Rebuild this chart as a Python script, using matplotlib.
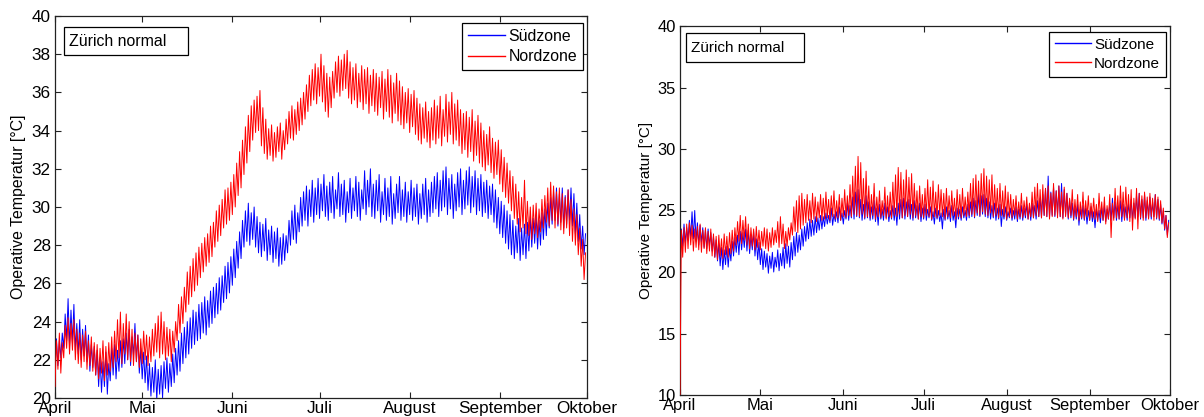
import matplotlib
matplotlib.use('Agg')
import matplotlib.pyplot as plt
import numpy as np
from matplotlib.patches import Rectangle

plt.rcParams['font.family'] = ['Liberation Sans', 'DejaVu Sans']

# ---------------- data ----------------
months = ['April', 'Mai', 'Juni', 'Juli', 'August', 'September', 'Oktober']
month_days = [0, 30, 61, 91, 122, 153, 183]
series_names = ['Südzone', 'Nordzone']
box_label = 'Zürich normal'
ylabel = 'Operative Temperatur [°C]'

# daily (min, max) pairs, April 1 .. September 30
sud_links = [
    22.0, 23.1, 21.7, 23.0, 22.1, 23.4, 22.6, 24.4, 23.0, 25.2, 22.7, 24.6, 22.9, 24.9, 22.5, 23.9, 22.3, 24.1, 22.0, 23.6,
    22.2, 23.8, 21.9, 23.3, 21.4, 22.8, 21.6, 22.7, 21.2, 22.5, 20.6, 22.1, 20.3, 21.9, 20.6, 22.4, 20.2, 21.8, 20.9, 22.6,
    21.2, 22.8, 21.0, 22.5, 21.4, 23.0, 21.6, 23.1, 21.8, 23.4, 22.0, 23.6, 21.7, 23.2, 22.2, 23.9, 21.9, 23.3, 21.3, 22.6,
    21.0, 22.4, 20.8, 22.2, 20.4, 21.8, 20.1, 21.6, 20.3, 22.0, 19.9, 21.5, 20.2, 21.7, 20.0, 21.9, 20.5, 22.1, 20.3, 21.8,
    20.6, 22.3, 20.8, 22.6, 21.2, 23.0, 21.4, 23.4, 21.8, 23.7, 22.1, 24.0, 22.3, 24.2, 22.6, 24.6, 22.8, 24.5, 23.0, 24.9,
    23.1, 25.0, 23.4, 25.3, 23.3, 25.1, 23.7, 25.6, 23.9, 25.8, 24.2, 26.0, 24.4, 26.3, 24.6, 26.4, 25.0, 26.9, 25.2, 27.1,
    25.5, 27.4, 25.9, 27.8, 26.3, 28.2, 26.8, 28.7, 27.3, 29.3, 27.9, 29.8, 28.2, 30.2, 28.0, 29.7, 28.3, 30.0, 27.9, 29.5,
    27.6, 29.2, 27.4, 29.1, 27.7, 29.4, 27.2, 28.8, 27.5, 29.0, 27.1, 28.7, 27.3, 28.9, 26.9, 28.4, 27.0, 28.6, 27.2, 28.5,
    27.6, 29.3, 28.0, 29.8, 28.3, 30.1, 28.1, 29.7, 28.7, 30.5, 29.0, 30.8, 29.3, 31.1, 29.0, 30.9, 29.5, 31.4, 29.2, 31.0,
    29.6, 31.5, 29.4, 31.2, 29.8, 31.7, 29.5, 31.1, 29.3, 31.3, 29.7, 31.6, 29.4, 30.9, 29.9, 31.8, 29.5, 31.2, 29.6, 31.4,
    29.2, 30.8, 29.7, 31.5, 29.4, 31.0, 29.8, 31.6, 29.5, 31.3, 29.3, 30.9, 29.9, 31.9, 29.6, 31.4, 30.0, 32.0, 29.5, 31.2,
    29.4, 31.4, 29.8, 31.7, 29.2, 30.8, 29.6, 31.5, 29.3, 31.0, 29.5, 31.6, 29.1, 30.7, 29.4, 31.2, 29.7, 31.6, 29.3, 30.9,
    29.5, 31.3, 29.2, 30.8, 29.6, 31.4, 29.3, 31.0, 29.5, 31.2, 29.1, 30.7, 29.4, 31.2, 29.6, 31.5, 29.2, 30.9, 29.5, 31.3,
    29.7, 31.6, 29.9, 31.8, 29.5, 31.4, 29.8, 31.9, 30.0, 32.1, 29.6, 31.5, 29.9, 31.7, 29.4, 31.2, 29.8, 31.8, 30.0, 32.0,
    29.6, 31.4, 29.9, 31.9, 30.1, 32.1, 29.7, 31.6, 30.0, 31.9, 29.6, 31.5, 29.8, 31.7, 29.5, 31.3, 29.7, 31.4, 29.4, 31.1,
    29.6, 31.2, 29.2, 30.9, 28.9, 30.5, 28.6, 30.3, 28.4, 30.1, 28.1, 29.8, 27.8, 29.6, 27.5, 29.3, 27.3, 29.0, 27.6, 29.4,
    27.2, 28.9, 27.5, 29.1, 27.3, 29.2, 27.7, 29.5, 27.9, 29.4, 28.1, 29.6, 27.8, 29.3, 28.0, 29.7, 28.3, 29.9, 28.5, 30.2,
    28.9, 30.5, 29.1, 30.8, 29.3, 31.0, 29.0, 30.7, 29.2, 31.0, 28.9, 30.6, 29.1, 30.9, 29.3, 31.0, 29.0, 30.7, 28.6, 30.2,
    28.2, 29.6, 27.8, 29.0, 27.5, 28.6,
]

nord_links = [
    20.6, 23.0, 21.5, 23.4, 21.3, 22.9, 22.1, 23.8, 22.6, 24.2, 22.3, 23.9, 22.5, 24.1, 22.0, 23.6, 21.8, 23.4, 21.6, 23.3,
    21.9, 23.5, 21.5, 23.0, 21.7, 23.2, 21.4, 22.9, 21.2, 22.8, 21.0, 22.6, 21.3, 23.0, 20.9, 22.7, 21.2, 22.9, 21.4, 23.2,
    21.6, 23.5, 21.9, 24.1, 22.1, 24.5, 21.8, 23.9, 22.3, 24.4, 22.0, 24.0, 21.9, 23.6, 21.7, 23.4, 21.9, 23.3, 21.6, 23.1,
    21.8, 23.5, 22.0, 23.3, 21.7, 23.2, 21.9, 23.6, 22.2, 23.9, 22.4, 24.3, 22.1, 24.5, 22.3, 24.0, 22.0, 23.7, 22.2, 23.6,
    21.9, 23.5, 22.4, 24.0, 23.0, 24.9, 23.4, 25.3, 23.9, 25.8, 24.5, 26.6, 24.9, 26.9, 25.3, 27.3, 25.6, 27.6, 25.9, 27.9,
    26.3, 28.1, 26.6, 28.4, 26.9, 28.6, 27.1, 29.0, 27.4, 29.2, 27.9, 29.8, 28.2, 30.1, 28.5, 30.4, 28.9, 30.9, 29.1, 31.0,
    29.3, 31.3, 29.6, 31.7, 30.0, 32.3, 30.6, 32.9, 31.0, 33.5, 31.7, 34.2, 32.3, 34.8, 32.9, 35.3, 33.5, 35.6, 33.9, 35.8,
    34.0, 36.1, 33.2, 35.2, 32.8, 34.6, 32.5, 34.1, 32.7, 34.3, 32.4, 33.9, 32.6, 34.2, 32.9, 34.4, 32.5, 34.0, 33.0, 34.6,
    33.3, 35.0, 33.6, 35.3, 33.5, 35.1, 33.8, 35.5, 34.0, 35.7, 34.3, 36.0, 34.6, 36.4, 35.0, 36.9, 35.3, 37.2, 35.6, 37.5,
    35.4, 37.3, 35.8, 38.0, 35.5, 37.4, 35.0, 37.0, 34.7, 36.8, 35.2, 37.1, 35.7, 37.6, 36.0, 37.9, 35.8, 37.7, 36.1, 38.0,
    36.2, 38.2, 35.7, 37.6, 35.4, 37.3, 35.6, 37.5, 35.2, 37.0, 35.5, 37.4, 35.1, 37.2, 35.4, 37.3, 34.9, 36.9, 35.3, 37.2,
    35.0, 37.0, 34.8, 36.8, 35.2, 37.1, 34.6, 36.7, 35.0, 37.2, 34.7, 36.9, 34.4, 36.5, 34.9, 37.0, 34.5, 36.6, 34.3, 36.3,
    34.1, 36.0, 34.4, 36.2, 33.9, 35.9, 34.2, 36.1, 33.8, 35.7, 33.5, 35.4, 33.3, 35.2, 33.6, 35.5, 33.4, 35.0, 33.1, 35.2,
    33.5, 35.6, 33.3, 35.3, 33.6, 35.8, 33.2, 35.1, 33.7, 35.9, 33.4, 35.5, 33.8, 36.0, 33.3, 35.4, 33.5, 35.6, 33.2, 35.1,
    32.8, 34.9, 33.0, 35.0, 32.6, 34.7, 32.9, 35.1, 32.4, 34.5, 32.7, 34.8, 32.3, 34.4, 32.1, 34.0, 31.9, 33.8, 32.2, 34.2,
    31.8, 33.6, 31.5, 33.4, 31.7, 33.5, 31.2, 33.0, 30.8, 32.6, 30.5, 32.3, 30.2, 31.9, 29.8, 31.6, 29.4, 31.2, 29.1, 30.8,
    28.7, 30.5, 28.9, 31.4, 28.6, 30.3, 28.5, 30.0, 28.3, 30.1, 28.6, 30.2, 28.4, 29.9, 28.7, 30.4, 28.9, 30.6, 29.2, 31.0,
    29.0, 31.3, 29.3, 31.1, 28.9, 30.8, 29.1, 31.0, 28.8, 30.7, 28.6, 30.5, 28.9, 30.9, 28.5, 30.4, 28.2, 29.9, 28.0, 29.6,
    27.5, 28.9, 26.9, 28.3, 26.2, 27.6,
]

sud_rechts = [
    22.3, 23.5, 22.1, 23.9, 22.4, 23.6, 22.6, 24.2, 22.9, 24.9, 22.7, 25.0, 22.5, 24.0, 22.2, 23.8, 22.4, 23.6, 22.0, 23.4,
    21.9, 23.5, 22.1, 23.2, 21.7, 22.9, 21.2, 22.6, 20.9, 22.3, 20.5, 22.0, 20.2, 21.8, 20.6, 22.1, 20.4, 21.9, 20.9, 22.5,
    21.3, 22.8, 21.6, 23.0, 21.4, 23.3, 21.8, 23.2, 22.0, 23.5, 21.7, 23.4, 21.5, 23.0, 21.8, 23.3, 21.3, 22.7, 21.0, 22.4,
    20.6, 21.9, 20.2, 21.7, 20.4, 21.5, 19.9, 21.3, 20.3, 21.6, 20.0, 21.2, 20.4, 21.8, 20.1, 21.5, 20.5, 22.0, 20.3, 22.3,
    20.7, 22.1, 20.4, 22.4, 21.0, 22.9, 21.3, 23.2, 21.6, 23.0, 21.8, 23.5, 22.1, 23.7, 22.5, 24.0, 22.7, 24.3, 22.9, 24.2,
    23.0, 24.5, 23.2, 24.4, 23.4, 24.6, 23.5, 24.5, 23.7, 24.8, 23.9, 24.6, 24.0, 25.2, 23.8, 24.7, 24.1, 24.9, 24.0, 25.3,
    24.2, 24.8, 23.9, 25.0, 24.3, 25.6, 24.2, 25.4, 24.4, 26.1, 24.3, 26.5, 24.5, 26.7, 24.4, 25.9, 24.2, 25.5, 24.3, 26.2,
    24.4, 25.7, 24.2, 25.3, 24.3, 25.8, 24.1, 25.2, 23.8, 25.5, 24.3, 25.1, 24.2, 25.6, 24.4, 25.3, 24.1, 25.0, 24.3, 25.4,
    24.2, 25.2, 23.8, 25.6, 24.3, 25.9, 24.4, 26.0, 24.3, 25.7, 24.5, 25.9, 24.3, 25.5, 24.2, 25.8, 24.4, 25.4, 24.3, 25.6,
    24.1, 25.2, 24.3, 25.5, 24.2, 25.1, 24.4, 25.3, 24.2, 24.9, 23.9, 25.2, 24.3, 25.0, 24.1, 24.8, 23.5, 25.1, 24.2, 25.3,
    24.3, 25.0, 24.1, 25.4, 24.2, 24.9, 23.6, 25.2, 24.3, 25.1, 24.2, 25.3, 24.4, 25.0, 24.2, 25.5, 24.4, 25.7, 24.5, 26.0,
    24.4, 25.8, 24.6, 26.4, 24.5, 26.2, 24.7, 26.3, 24.5, 26.0, 24.4, 25.7, 24.3, 25.4, 24.4, 25.6, 24.2, 25.2, 24.3, 25.5,
    23.7, 25.1, 24.3, 25.3, 24.2, 24.9, 24.4, 25.2, 24.2, 25.0, 24.3, 25.3, 24.1, 25.1, 24.3, 25.4, 24.2, 25.2, 24.4, 25.5,
    24.3, 25.3, 24.2, 25.6, 24.4, 25.4, 24.3, 25.8, 24.5, 26.0, 24.4, 26.3, 24.6, 26.8, 24.5, 27.8, 24.4, 26.5, 24.6, 26.9,
    24.5, 26.6, 24.7, 27.0, 24.5, 27.2, 24.4, 26.7, 24.6, 26.4, 24.3, 25.9, 24.4, 25.6, 24.2, 25.3, 24.3, 25.5, 23.8, 25.1,
    24.3, 25.4, 24.2, 25.2, 23.9, 25.0, 24.2, 25.3, 24.1, 24.9, 23.6, 25.1, 24.2, 25.0, 24.0, 25.2, 24.2, 25.4, 24.1, 25.1,
    24.3, 25.6, 24.2, 26.0, 24.4, 25.7, 24.2, 25.4, 24.3, 25.8, 24.1, 25.5, 24.3, 25.3, 24.2, 25.6, 24.4, 25.9, 24.2, 25.6,
    24.4, 26.2, 24.5, 26.4, 24.3, 25.9, 24.4, 26.3, 24.2, 25.8, 24.4, 26.1, 24.3, 25.7, 24.5, 26.3, 24.3, 25.9, 24.2, 25.5,
    23.9, 25.0, 23.4, 24.6, 23.0, 24.2,
]

nord_rechts = [
    10.0, 23.4, 21.2, 23.6, 21.6, 23.9, 21.9, 24.0, 22.2, 23.8, 21.7, 23.5, 22.0, 23.7, 21.8, 23.9, 21.6, 23.4, 21.9, 23.6,
    21.5, 23.3, 21.7, 23.5, 21.3, 23.1, 21.2, 22.9, 21.0, 23.0, 21.3, 22.7, 21.1, 23.1, 21.4, 22.9, 21.2, 23.2, 21.5, 23.4,
    21.7, 23.6, 22.2, 24.1, 22.5, 24.6, 22.3, 24.2, 22.6, 24.5, 22.2, 23.9, 21.9, 23.6, 22.1, 23.5, 21.8, 23.7, 22.0, 23.4,
    21.8, 23.3, 22.1, 23.6, 21.9, 23.5, 21.7, 23.2, 22.0, 23.6, 22.2, 23.4, 22.4, 24.1, 22.0, 24.5, 22.3, 23.9, 21.9, 23.3,
    22.1, 23.6, 22.6, 24.0, 23.0, 25.3, 23.3, 25.8, 23.2, 26.2, 23.5, 26.4, 23.8, 25.9, 24.0, 26.3, 24.2, 25.8, 24.0, 26.4,
    24.3, 26.1, 24.1, 25.7, 24.4, 26.3, 24.2, 26.0, 24.3, 26.5, 24.4, 25.9, 24.2, 26.2, 24.5, 26.6, 24.3, 25.8, 24.4, 26.3,
    24.2, 26.0, 24.5, 26.7, 24.4, 26.2, 24.6, 27.1, 24.5, 27.8, 24.7, 28.6, 24.6, 29.4, 24.5, 28.9, 24.7, 27.6, 24.4, 28.2,
    24.5, 27.0, 24.4, 26.3, 24.6, 27.2, 24.3, 26.1, 24.5, 26.6, 24.4, 25.8, 24.6, 26.9, 24.3, 26.2, 24.5, 26.5, 24.4, 27.3,
    24.6, 27.9, 24.5, 28.5, 24.7, 28.1, 24.4, 27.5, 24.6, 28.3, 24.5, 27.7, 24.7, 28.0, 24.4, 27.2, 24.6, 26.6, 24.3, 27.0,
    24.5, 26.3, 24.4, 26.8, 24.6, 27.5, 24.5, 26.9, 24.3, 27.4, 24.5, 26.5, 24.4, 27.1, 24.6, 26.7, 24.5, 26.4, 24.3, 26.8,
    24.5, 26.2, 24.4, 26.6, 24.6, 26.0, 24.3, 26.7, 24.5, 26.3, 24.4, 26.8, 24.6, 26.1, 24.5, 26.5, 24.6, 27.2, 24.7, 27.6,
    24.5, 27.9, 24.8, 27.4, 24.6, 28.0, 24.9, 28.4, 24.7, 27.8, 24.6, 27.5, 24.8, 27.9, 24.5, 27.1, 24.6, 26.8, 24.4, 27.2,
    24.6, 26.6, 24.5, 27.0, 24.3, 26.5, 24.5, 26.3, 24.4, 25.9, 24.6, 26.2, 24.3, 25.7, 24.5, 26.4, 24.4, 25.8, 24.6, 26.1,
    24.3, 25.6, 24.5, 26.5, 24.4, 26.9, 24.6, 27.2, 24.5, 26.7, 24.4, 27.1, 24.6, 26.8, 24.5, 27.0, 24.3, 26.4, 24.5, 27.2,
    24.6, 26.6, 24.4, 27.0, 24.5, 26.5, 24.3, 26.9, 24.5, 26.4, 24.4, 26.0, 24.6, 26.7, 24.3, 25.9, 24.5, 26.3, 24.2, 25.7,
    24.4, 26.5, 24.3, 25.8, 24.5, 26.2, 24.2, 25.6, 24.4, 26.0, 24.3, 25.5, 24.1, 26.4, 24.4, 25.7, 24.2, 26.1, 23.9, 25.4,
    24.3, 26.3, 22.8, 25.6, 24.2, 26.8, 24.4, 26.2, 24.3, 27.0, 24.5, 26.5, 24.2, 26.9, 24.4, 26.3, 24.1, 26.7, 23.4, 26.0,
    24.3, 26.8, 23.5, 26.4, 24.4, 26.2, 24.2, 26.5, 24.4, 26.1, 24.3, 26.4, 24.5, 26.0, 24.2, 26.3, 24.4, 26.1, 24.3, 25.8,
    24.0, 25.2, 23.5, 24.6, 22.8, 24.0,
]

# ---------------- figure ----------------
W, H = 1204, 417
fig = plt.figure(figsize=(W / 100, H / 100), dpi=100)
ax1 = fig.add_axes([55 / W, (H - 398) / H, 532 / W, 382 / H])
ax2 = fig.add_axes([680 / W, (H - 395) / H, 490 / W, 369 / H])

BLUE = '#0000ff'
RED = '#ff0000'


def panel(ax, sud, nord, ylim, yticks, tick_fs, text_fs, box, text_xy, leg_anchor):
    xs = np.arange(len(sud)) * 0.5
    xn = np.arange(len(nord)) * 0.5
    ax.plot(xs, sud, color=BLUE, lw=0.7, label=series_names[0], zorder=2)
    ax.plot(xn, nord, color=RED, lw=0.7, label=series_names[1], zorder=3)
    ax.set_xlim(0, 183)
    ax.set_ylim(*ylim)
    ax.set_xticks(month_days)
    ax.set_xticklabels(months)
    ax.set_yticks(yticks)
    ax.tick_params(direction='in', top=True, right=True, length=4, width=0.8,
                   labelsize=tick_fs, color='#222222', labelcolor='black')
    ax.tick_params(axis='x', pad=2)
    ax.tick_params(axis='y', pad=3)
    for s in ax.spines.values():
        s.set_linewidth(0.9)
        s.set_color('#222222')
    ax.set_ylabel(ylabel, fontsize=text_fs)
    ax.yaxis.set_label_coords(-0.055, 0.5)
    # "Zürich normal" box
    x0, y0, x1, y1 = box
    ax.add_patch(Rectangle((x0, y0), x1 - x0, y1 - y0, transform=ax.transAxes,
                           facecolor='white', edgecolor='black', lw=0.9, zorder=5))
    ax.text(text_xy[0], text_xy[1], box_label, transform=ax.transAxes,
            fontsize=text_fs, va='center', ha='left', zorder=6)
    leg = ax.legend(loc='upper right', bbox_to_anchor=leg_anchor, borderaxespad=0,
                    fancybox=False, framealpha=1, edgecolor='black', fontsize=text_fs,
                    handlelength=2.35, handletextpad=0.2, borderpad=0.38,
                    labelspacing=0.32)
    leg.get_frame().set_linewidth(0.9)
    for ln in leg.get_lines():
        ln.set_linewidth(1.0)
    leg.set_zorder(7)


panel(ax1, sud_links, nord_links, (20, 40), [20, 22, 24, 26, 28, 30, 32, 34, 36, 38, 40],
      12.3, 11.4,
      ((64 - 55) / 532, 1 - (55 - 16) / 382, (188 - 55) / 532, 1 - (27 - 16) / 382),
      ((69 - 55) / 532, 1 - (41 - 16) / 382),
      (1 - 4 / 532, 1 - 7 / 382))

panel(ax2, sud_rechts, nord_rechts, (10, 40), [10, 15, 20, 25, 30, 35, 40],
      11.9, 11.0,
      ((686 - 680) / 490, 1 - (62 - 26) / 369, (804 - 680) / 490, 1 - (33 - 26) / 369),
      ((691 - 680) / 490, 1 - (47.5 - 26) / 369),
      (1 - 4 / 490, 1 - 6 / 369))

fig.savefig('out.png', dpi=100)
